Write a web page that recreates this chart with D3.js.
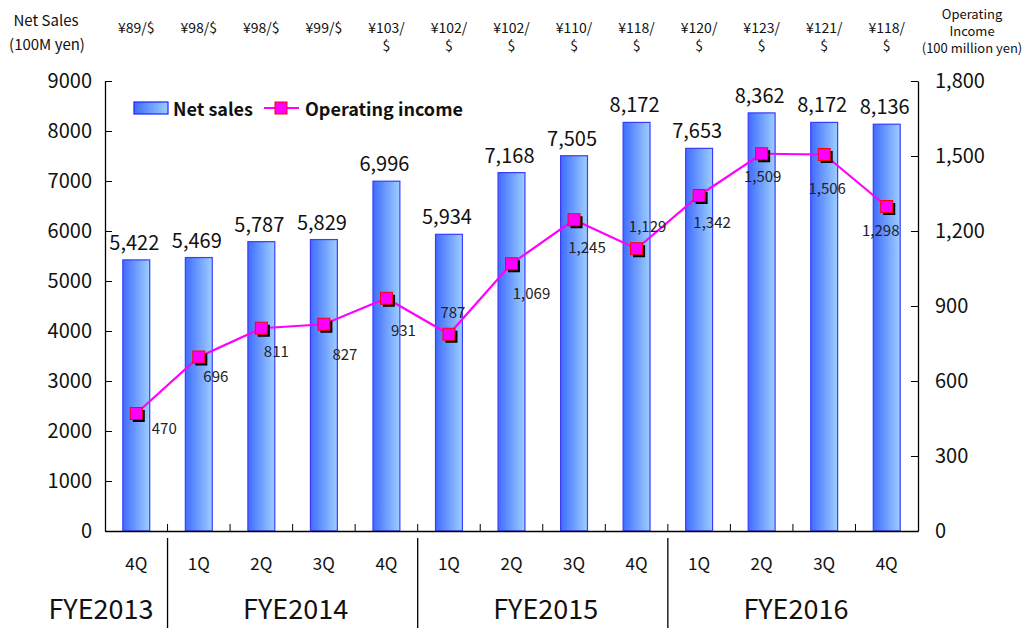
<!DOCTYPE html>
<html>
<head>
<meta charset="utf-8">
<script src="https://cdn.jsdelivr.net/npm/d3@7"></script>
<style>
  body { margin: 0; background: #fff; }
  svg text { font-family: "Noto Sans CJK JP", "DejaVu Sans", sans-serif; fill: #111; }
</style>
</head>
<body>
<div id="chart"></div>
<script>
// quarters and fiscal years
const quarters = ['4Q', '1Q', '2Q', '3Q', '4Q', '1Q', '2Q', '3Q', '4Q', '1Q', '2Q', '3Q', '4Q'];
const fiscalYears = [
  { name: 'FYE2013', start: 0, end: 1 },
  { name: 'FYE2014', start: 1, end: 5 },
  { name: 'FYE2015', start: 5, end: 9 },
  { name: 'FYE2016', start: 9, end: 13 }
];
const exchangeRates = ['¥89/$', '¥98/$', '¥98/$', '¥99/$', '¥103/$', '¥102/$', '¥102/$', '¥110/$', '¥118/$', '¥120/$', '¥123/$', '¥121/$', '¥118/$'];

// values (100M yen)
const netSales = [5422, 5469, 5787, 5829, 6996, 5934, 7168, 7505, 8172, 7653, 8362, 8172, 8136];
const operatingIncome = [470, 696, 811, 827, 931, 787, 1069, 1245, 1129, 1342, 1509, 1506, 1298];

// axis ticks
const salesTicks = [0, 1000, 2000, 3000, 4000, 5000, 6000, 7000, 8000, 9000];
const incomeTicks = [0, 300, 600, 900, 1200, 1500, 1800];

// where the operating income labels sit relative to their marker
const incomeLabelOffset = [[28, 14], [17, 18], [15, 22], [21, 29], [17, 31], [4, -23], [20, 29],
  [13, 27], [11, -23], [13, 26], [1, 22], [3, 33], [-6, 23]];

const W = 1033, H = 628;
const mLeft = 105, mRight = 918, mTop = 81, mBottom = 531;

const svg = d3.select('#chart').append('svg')
  .attr('width', W)
  .attr('height', H);

const defs = svg.append('defs');
const grad = defs.append('linearGradient')
  .attr('id', 'barGrad')
  .attr('x1', '0%').attr('x2', '100%').attr('y1', '0%').attr('y2', '0%');
grad.append('stop').attr('offset', '0%').attr('stop-color', '#3f6cff');
grad.append('stop').attr('offset', '100%').attr('stop-color', '#9dcfff');

const x = d3.scaleBand()
  .domain(d3.range(quarters.length))
  .range([mLeft, mRight])
  .padding(0);

const ySales = d3.scaleLinear().domain([0, 9000]).range([mBottom, mTop]);
const yIncome = d3.scaleLinear().domain([0, 1800]).range([mBottom, mTop]);

const barW = x.bandwidth() * 0.43;
const cx = i => x(i) + x.bandwidth() / 2;

// bars
svg.selectAll('.bar')
  .data(netSales)
  .enter()
  .append('rect')
  .attr('class', 'bar')
  .attr('x', (d, i) => cx(i) - barW / 2)
  .attr('y', d => ySales(d))
  .attr('width', barW)
  .attr('height', d => mBottom - ySales(d))
  .attr('fill', 'url(#barGrad)')
  .attr('stroke', '#3b3bff')
  .attr('stroke-width', 1.2);

// bar value labels
svg.selectAll('.bar-label')
  .data(netSales)
  .enter()
  .append('text')
  .attr('x', (d, i) => cx(i) - 2)
  .attr('y', d => ySales(d) - 10)
  .attr('text-anchor', 'middle')
  .style('font-size', '20px')
  .text(d => d3.format(',')(d));

// left axis
const leftAxis = svg.append('g')
  .attr('transform', `translate(${mLeft},0)`)
  .call(d3.axisLeft(ySales).tickValues(salesTicks).tickSizeInner(-7).tickSizeOuter(0).tickPadding(13).tickFormat(d3.format('d')));
leftAxis.selectAll('text').style('font-size', '20px');

// right axis
const rightAxis = svg.append('g')
  .attr('transform', `translate(${mRight},0)`)
  .call(d3.axisRight(yIncome).tickValues(incomeTicks).tickSizeInner(-7).tickSizeOuter(0).tickPadding(17).tickFormat(d3.format(',')));
rightAxis.selectAll('text').style('font-size', '20px');

// bottom axis
const bottomAxis = svg.append('g')
  .attr('transform', `translate(0,${mBottom})`)
  .call(d3.axisBottom(x).tickValues([]).tickSizeOuter(0));
bottomAxis.selectAll('.tick-mark')
  .data(d3.range(1, quarters.length))
  .enter()
  .append('line')
  .attr('class', 'tick-mark')
  .attr('x1', d => x(d)).attr('x2', d => x(d))
  .attr('y1', 0).attr('y2', -7)
  .attr('stroke', '#000');

[leftAxis, rightAxis, bottomAxis].forEach(g => {
  g.select('.domain').attr('stroke', '#000').attr('stroke-width', 1.3);
  g.selectAll('.tick line').attr('stroke', '#000');
  g.selectAll('.tick text').style('fill', '#111');
});

// operating income line
const line = d3.line()
  .x((d, i) => cx(i))
  .y(d => yIncome(d));

svg.append('path')
  .datum(operatingIncome)
  .attr('d', line)
  .attr('fill', 'none')
  .attr('stroke', '#ff00ff')
  .attr('stroke-width', 2.2);

const ms = 12;
svg.selectAll('.marker-shadow')
  .data(operatingIncome)
  .enter()
  .append('rect')
  .attr('x', (d, i) => cx(i) - ms / 2 + 2.5)
  .attr('y', d => yIncome(d) - ms / 2 + 2.5)
  .attr('width', ms).attr('height', ms)
  .attr('fill', '#000');

svg.selectAll('.marker')
  .data(operatingIncome)
  .enter()
  .append('rect')
  .attr('x', (d, i) => cx(i) - ms / 2)
  .attr('y', d => yIncome(d) - ms / 2)
  .attr('width', ms).attr('height', ms)
  .attr('fill', '#ff00ff')
  .attr('stroke', '#ff0000')
  .attr('stroke-width', 1);

svg.selectAll('.income-label')
  .data(operatingIncome)
  .enter()
  .append('text')
  .attr('x', (d, i) => cx(i) + incomeLabelOffset[i][0])
  .attr('y', (d, i) => yIncome(d) + incomeLabelOffset[i][1])
  .attr('text-anchor', 'middle')
  .attr('dominant-baseline', 'central')
  .style('font-size', '15px')
  .style('fill', '#222')
  .text(d => d3.format(',')(d));

// exchange rates along the top
exchangeRates.forEach((r, i) => {
  const t = svg.append('text')
    .attr('x', cx(i))
    .attr('y', 27)
    .attr('text-anchor', 'middle')
    .attr('dominant-baseline', 'central')
    .style('font-size', '14px');
  if (r.length > 5) {
    t.text(r.slice(0, -1));
    svg.append('text')
      .attr('x', cx(i))
      .attr('y', 45)
      .attr('text-anchor', 'middle')
      .attr('dominant-baseline', 'central')
      .style('font-size', '14px')
      .text('$');
  } else {
    t.text(r);
  }
});

// axis titles
svg.append('text').attr('x', 46).attr('y', 19).attr('text-anchor', 'middle')
  .attr('dominant-baseline', 'central').style('font-size', '15px').text('Net Sales');
svg.append('text').attr('x', 47).attr('y', 43).attr('text-anchor', 'middle')
  .attr('dominant-baseline', 'central').style('font-size', '15px').text('(100M yen)');

['Operating', 'Income', '(100 million yen)'].forEach((s, i) => {
  svg.append('text').attr('x', 972).attr('y', 13 + i * 17).attr('text-anchor', 'middle')
    .attr('dominant-baseline', 'central').style('font-size', '13px').text(s);
});

// quarter labels
svg.selectAll('.q-label')
  .data(quarters)
  .enter()
  .append('text')
  .attr('x', (d, i) => cx(i))
  .attr('y', 562)
  .attr('text-anchor', 'middle')
  .attr('dominant-baseline', 'central')
  .style('font-size', '17px')
  .text(d => d);

// fiscal year separators and labels
fiscalYears.slice(1).forEach(fy => {
  svg.append('line')
    .attr('x1', x(fy.start)).attr('x2', x(fy.start))
    .attr('y1', 538).attr('y2', H)
    .attr('stroke', '#000').attr('stroke-width', 1.3);
});
fiscalYears.forEach(fy => {
  const t = svg.append('text')
    .attr('y', 607)
    .attr('dominant-baseline', 'central')
    .style('font-size', '27px')
    .text(fy.name);
  if (fy.end - fy.start === 1) {
    t.attr('x', x(fy.end) - 14).attr('text-anchor', 'end');
  } else {
    t.attr('x', (x(fy.start) + x(fy.end - 1) + x.bandwidth()) / 2 + 3).attr('text-anchor', 'middle');
  }
});

// legend
const lg = svg.append('g');
lg.append('rect').attr('x', 134).attr('y', 102).attr('width', 34).attr('height', 12)
  .attr('fill', 'url(#barGrad)').attr('stroke', '#2020ff').attr('stroke-width', 1.2);
lg.append('text').attr('x', 173).attr('y', 108).attr('dominant-baseline', 'central')
  .style('font-size', '18px').style('font-weight', 'bold').text('Net sales');
lg.append('line').attr('x1', 264).attr('x2', 299).attr('y1', 108).attr('y2', 108)
  .attr('stroke', '#ff00ff').attr('stroke-width', 2.2);
lg.append('rect').attr('x', 275).attr('y', 102).attr('width', ms).attr('height', ms)
  .attr('fill', '#ff00ff').attr('stroke', '#ff0000');
lg.append('text').attr('x', 305).attr('y', 108).attr('dominant-baseline', 'central')
  .style('font-size', '18px').style('font-weight', 'bold').text('Operating income');
</script>
</body>
</html>
